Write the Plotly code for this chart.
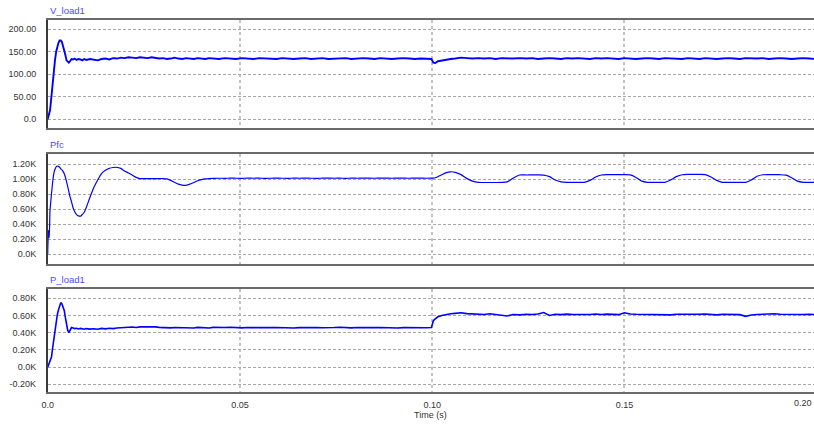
import plotly.graph_objects as go

# ---------------- data ----------------
time_s = [
    0.0000, 0.0002, 0.0004, 0.0006, 0.0008, 0.0010, 0.0013, 0.0016, 0.0019, 0.0022,
    0.0025, 0.0028, 0.0031, 0.0034, 0.0037, 0.0040, 0.0043, 0.0046, 0.0049, 0.0052,
    0.0055, 0.0058, 0.0062, 0.0066, 0.0070, 0.0075, 0.0080, 0.0085, 0.0090, 0.0095,
    0.0100, 0.0110, 0.0120, 0.0130, 0.0140, 0.0150, 0.0160, 0.0170, 0.0180, 0.0190,
    0.0200, 0.0210, 0.0220, 0.0230, 0.0240, 0.0250, 0.0260, 0.0270, 0.0280, 0.0290,
    0.0300, 0.0310, 0.0320, 0.0330, 0.0340, 0.0350, 0.0360, 0.0370, 0.0380, 0.0390,
    0.0400, 0.0410, 0.0420, 0.0430, 0.0445, 0.0460, 0.0475, 0.0490, 0.0505, 0.0520,
    0.0535, 0.0550, 0.0565, 0.0580, 0.0595, 0.0610, 0.0625, 0.0640, 0.0655, 0.0670,
    0.0685, 0.0700, 0.0715, 0.0730, 0.0745, 0.0760, 0.0775, 0.0790, 0.0805, 0.0820,
    0.0835, 0.0850, 0.0865, 0.0880, 0.0895, 0.0910, 0.0925, 0.0940, 0.0955, 0.0970,
    0.0985, 0.0998, 0.1003, 0.1008, 0.1015, 0.1025, 0.1035, 0.1048, 0.1060, 0.1075,
    0.1090, 0.1105, 0.1120, 0.1135, 0.1150, 0.1165, 0.1180, 0.1195, 0.1210, 0.1228,
    0.1245, 0.1260, 0.1275, 0.1290, 0.1305, 0.1320, 0.1335, 0.1350, 0.1365, 0.1380,
    0.1395, 0.1410, 0.1425, 0.1440, 0.1455, 0.1470, 0.1485, 0.1500, 0.1515, 0.1530,
    0.1545, 0.1560, 0.1575, 0.1590, 0.1605, 0.1620, 0.1635, 0.1650, 0.1665, 0.1680,
    0.1695, 0.1710, 0.1725, 0.1740, 0.1755, 0.1770, 0.1785, 0.1800, 0.1815, 0.1830,
    0.1845, 0.1860, 0.1875, 0.1890, 0.1905, 0.1920, 0.1935, 0.1950, 0.1965, 0.1980,
    0.1995, 0.2000,
]

v_load1 = [
    0, 6, 13, 20, 36, 55, 88, 112, 132, 150,
    162, 170, 175, 175, 172, 164, 155, 143, 131, 127,
    126, 129, 134, 133, 135, 132, 134, 133, 131, 134,
    132, 134, 133, 131, 134, 135, 133, 136, 135, 137,
    136, 138, 137, 136, 138, 137, 136, 138, 137, 135,
    136, 134, 135, 137, 135, 134, 136, 135, 134, 136,
    135, 134, 136, 135, 134, 136, 135, 134, 136, 135,
    134, 136, 135, 135, 134, 136, 135, 134, 135, 136,
    134, 135, 136, 134, 135, 135, 136, 134, 135, 136,
    135, 134, 136, 135, 134, 135, 136, 135, 134, 135,
    135, 134, 126, 125, 129, 131, 133, 134, 135, 137,
    136, 135, 136, 135, 136, 134, 136, 135, 135, 136,
    135, 136, 134, 135, 136, 135, 134, 136, 135, 136,
    135, 134, 136, 135, 136, 135, 134, 136, 135, 134,
    135, 136, 135, 134, 136, 135, 135, 134, 136, 135,
    134, 136, 135, 134, 135, 136, 135, 134, 136, 135,
    135, 136, 134, 135, 136, 135, 134, 135, 136, 135,
    135, 134,
]

pfc = [
    0, 320, 220, 590, 700, 813, 968, 1080, 1133, 1165,
    1177, 1172, 1160, 1140, 1125, 1105, 1075, 1030, 968, 905,
    835, 768, 700, 620, 570, 530, 512, 507, 530, 560,
    620, 760, 890, 990, 1075, 1120, 1145, 1157, 1160, 1145,
    1110, 1085, 1055, 1025, 1010, 1010, 1010, 1010, 1010, 1010,
    1010, 1005, 985, 960, 935, 922, 920, 935, 958, 980,
    995, 1005, 1010, 1012, 1014, 1013, 1015, 1014, 1013, 1015,
    1014, 1015, 1013, 1014, 1015, 1014, 1013, 1015, 1014, 1015,
    1014, 1013, 1015, 1016, 1014, 1015, 1013, 1015, 1014, 1016,
    1015, 1014, 1016, 1015, 1014, 1016, 1015, 1014, 1016, 1015,
    1014, 1015, 1016, 1020, 1035, 1060, 1085, 1100, 1092, 1062,
    1012, 975, 958, 957, 957, 957, 958, 965, 1015, 1057,
    1057, 1058, 1058, 1056, 1035, 990, 965, 958, 958, 958,
    960, 985, 1030, 1057, 1062, 1062, 1063, 1062, 1058, 1025,
    975, 960, 958, 958, 960, 990, 1035, 1060, 1065, 1065,
    1065, 1062, 1030, 985, 960, 958, 958, 958, 960, 990,
    1040, 1060, 1062, 1062, 1061, 1055, 1020, 975, 960, 958,
    958, 958,
]

p_load1 = [
    0, 22, 48, 75, 100, 121, 228, 335, 442, 553,
    610, 664, 720, 750, 735, 705, 660, 575, 500, 430,
    400, 420, 460, 455, 448, 452, 444, 450, 446, 441,
    448, 442, 446, 440, 450, 445, 452, 448, 455, 460,
    458, 464, 466, 460, 468, 470, 466, 472, 468, 462,
    458, 462, 456, 460, 458, 463, 457, 460, 455, 462,
    458, 460, 455, 462, 457, 460, 464, 458, 456, 460,
    458, 462, 456, 459, 461, 457, 460, 455, 459, 462,
    457, 460, 458, 455, 460, 463, 458, 456, 460, 458,
    456, 459, 461, 457, 460, 455, 459, 457, 460, 458,
    457, 460, 540, 560, 585, 600, 612, 620, 625, 632,
    622, 618, 615, 612, 620, 610, 598, 594, 612, 608,
    615, 612, 618, 635, 600, 614, 610, 616, 612, 610,
    614, 612, 618, 612, 616, 614, 610, 632, 618, 614,
    612, 615, 610, 614, 612, 608, 614, 612, 617, 615,
    614, 618, 612, 608, 615, 612, 616, 610, 590, 606,
    612, 615, 612, 620, 614, 612, 618, 614, 612, 613,
    614, 612,
]

panel_titles = ["V_load1", "Pfc", "P_load1"]

y1_ticks = [0, 50, 100, 150, 200]
y1_labels = ["0.0", "50.00", "100.00", "150.00", "200.00"]
y2_ticks = [0, 200, 400, 600, 800, 1000, 1200]
y2_labels = ["0.0K", "0.20K", "0.40K", "0.60K", "0.80K", "1.00K", "1.20K"]
y3_ticks = [-200, 0, 200, 400, 600, 800]
y3_labels = ["-0.20K", "0.0K", "0.20K", "0.40K", "0.60K", "0.80K"]
x_ticks = [0.0, 0.05, 0.10, 0.15]
x_labels = ["0.0", "0.05", "0.10", "0.15"]
x_last_label = "0.20"
x_title = "Time (s)"

# ---------------- figure ----------------
W, H = 814, 425
FONT = "Liberation Sans, Arial, sans-serif"
TICK_FONT = dict(family=FONT, size=9, color="#333333")
TITLE_COLOR = "#4a4aff"
LINE_COLOR = "#0000ff"

x_dom = [47.7 / W, 1.0]
panels_px = [(20, 128.3), (154.3, 263.7), (289.3, 392.3)]
y_doms = [[1 - b / H, 1 - t / H] for (t, b) in panels_px]
y_ranges = [[-20, 220.7], [-125, 1333], [-293, 905]]
x_range = [0, 0.1993]

fig = go.Figure()
series = [v_load1, pfc, p_load1]
widths = [1.9, 1.2, 1.6]
shapes_ = ["linear", "spline", "linear"]
for i, vals in enumerate(series):
    sfx = "" if i == 0 else str(i + 1)
    fig.add_trace(go.Scatter(
        x=time_s, y=vals, mode="lines",
        line=dict(color=LINE_COLOR, width=widths[i], shape=shapes_[i], smoothing=0.6),
        xaxis="x" + sfx, yaxis="y" + sfx, hoverinfo="skip", showlegend=False,
    ))

layout = dict(
    width=W, height=H,
    margin=dict(l=0, r=0, t=0, b=0, pad=0, autoexpand=False),
    paper_bgcolor="white", plot_bgcolor="white",
    showlegend=False,
)

ytick_sets = [(y1_ticks, y1_labels), (y2_ticks, y2_labels), (y3_ticks, y3_labels)]
for i in range(3):
    sfx = "" if i == 0 else str(i + 1)
    layout["xaxis" + sfx] = dict(
        domain=x_dom, anchor="y" + sfx, range=x_range, automargin=False,
        tickmode="array", tickvals=x_ticks, ticktext=x_labels,
        showticklabels=(i == 2), ticks="",
        tickfont=TICK_FONT, ticklabelstandoff=3,
        showgrid=True, gridcolor="#c4c4c4", griddash="dot", gridwidth=1.5,
        zeroline=False, showline=True, linecolor="#6a6a6a", linewidth=1.5, mirror=True,
    )
    tv, tt = ytick_sets[i]
    layout["yaxis" + sfx] = dict(
        domain=y_doms[i], anchor="x" + sfx, range=y_ranges[i], automargin=False,
        tickmode="array", tickvals=tv, ticktext=tt, ticks="",
        tickfont=TICK_FONT, ticklabelstandoff=8,
        showgrid=True, gridcolor="#a8a8a8", griddash="3px,2px", gridwidth=1,
        zeroline=False, showline=True, linecolor="#3a3a3a", linewidth=1.5,
    )

annotations = []
for i, name in enumerate(panel_titles):
    top_px = panels_px[i][0]
    annotations.append(dict(
        text=name, xref="paper", yref="paper", x=x_dom[0], y=1 - (top_px - 10) / H,
        xanchor="left", yanchor="middle", showarrow=False,
        font=dict(family=FONT, size=9.5, color=TITLE_COLOR),
    ))
annotations.append(dict(
    text=x_last_label, xref="paper", yref="paper", x=1.0, y=1 - 403 / H,
    xanchor="right", yanchor="middle", showarrow=False, font=TICK_FONT,
))
annotations.append(dict(
    text=x_title, xref="paper", yref="paper", x=(x_dom[0] + x_dom[1]) / 2, y=1 - 415 / H,
    xanchor="center", yanchor="middle", showarrow=False, font=TICK_FONT,
))
layout["annotations"] = annotations

fig.update_layout(**layout)
fig.write_html("out.html")
